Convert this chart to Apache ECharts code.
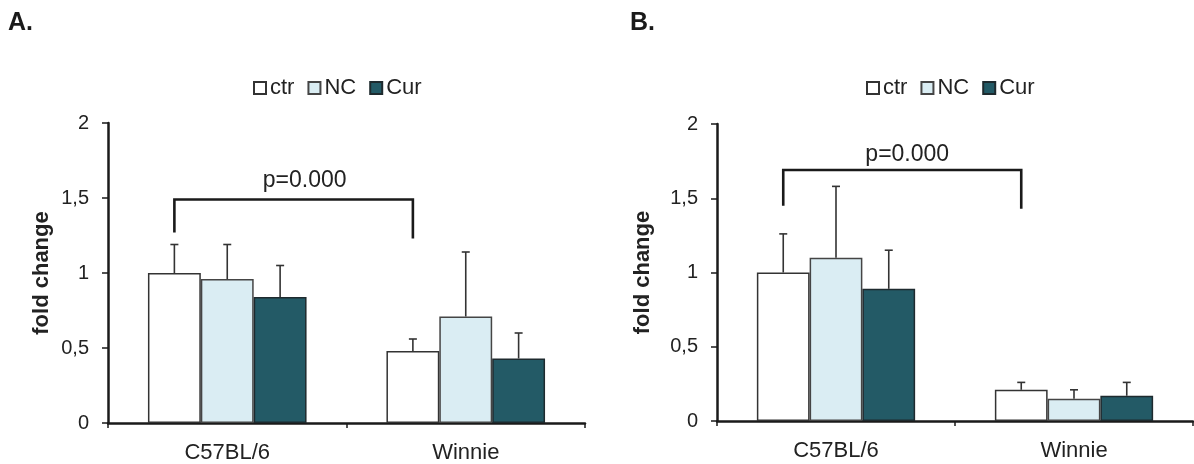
<!DOCTYPE html>
<html>
<head>
<meta charset="utf-8">
<script src="https://cdn.jsdelivr.net/npm/echarts@6/dist/echarts.min.js"></script>
<style>
  html, body { margin: 0; padding: 0; background: #ffffff; }
  #chart { width: 1194px; height: 464px; }
</style>
</head>
<body>
<div id="chart"></div>
<script>
// Strain groups on the category axis and the three treatment series
const groups = ['C57BL/6', 'Winnie'];
const seriesNames = ['ctr', 'NC', 'Cur'];
const yTicks = [0, 0.5, 1, 1.5, 2];

// Panel A: mean fold change and upper SD per group
const ctrA = [1.00, 0.48];
const ncA = [0.96, 0.71];
const curA = [0.84, 0.43];
const ctrErrA = [0.19, 0.08];
const ncErrA = [0.23, 0.43];
const curErrA = [0.21, 0.17];

// Panel B: mean fold change and upper SD per group
const ctrB = [1.00, 0.21];
const ncB = [1.10, 0.15];
const curB = [0.89, 0.17];
const ctrErrB = [0.26, 0.05];
const ncErrB = [0.48, 0.06];
const curErrB = [0.26, 0.09];

// Significance brackets: compared groups, bracket height and leg ends (fold change)
const bracketA = [0, 1, 1.49, 1.27, 1.23];
const bracketB = [0, 1, 1.69, 1.45, 1.43];
const pLabel = 'p=0.000';

const FONT = '"Liberation Sans", Arial, sans-serif';
const INK = '#1a1a1a';
const TEXT = '#222222';
const CAT_GAP = 0.335;

const fills = ['#ffffff', '#daedf3', '#235a66'];
const borders = ['#333333', '#454545', '#1e2a2e'];

const panels = [
  { means: [ctrA, ncA, curA], errs: [ctrErrA, ncErrA, curErrA], bracket: bracketA,
    grid: { left: 108, top: 123, width: 477, height: 301 }, nameGap: 55, legendLeft: 248,
    labelDx: 11, labelDy: 19 },
  { means: [ctrB, ncB, curB], errs: [ctrErrB, ncErrB, curErrB], bracket: bracketB,
    grid: { left: 717, top: 124, width: 476, height: 297 }, nameGap: 63, legendLeft: 861,
    labelDx: 5, labelDy: 15 }
];

function barWidth(api) {
  const band = api.size([1, 0])[0];
  return band * (1 - CAT_GAP) / 3;
}

// Upper-only error whisker with a short cap, centred on its bar
function renderErr(params, api) {
  const c = api.value(0), mean = api.value(1), sd = api.value(2), k = api.value(3);
  const bw = barWidth(api);
  const base = api.coord([c, mean]);
  const top = api.coord([c, mean + sd]);
  const x = base[0] + (k - 1) * bw;
  const st = { stroke: '#333333', lineWidth: 1.6 };
  return {
    type: 'group',
    children: [
      { type: 'line', shape: { x1: x, y1: base[1], x2: x, y2: top[1] }, style: st },
      { type: 'line', shape: { x1: x - 4, y1: top[1], x2: x + 4, y2: top[1] }, style: st }
    ]
  };
}

function makeBracketRenderer(dx, dy) {
  return function (params, api) {
    const from = api.value(0), to = api.value(1);
    const top = api.value(2), leftEnd = api.value(3), rightEnd = api.value(4);
    const bw = barWidth(api);
    const pTop = api.coord([from, top]);
    const xL = pTop[0] - bw;
    const xR = api.coord([to, top])[0] - bw;
    const yTop = pTop[1];
    const yL = api.coord([from, leftEnd])[1];
    const yR = api.coord([to, rightEnd])[1];
    return {
      type: 'group',
      children: [
        { type: 'polyline', shape: { points: [[xL, yL], [xL, yTop], [xR, yTop], [xR, yR]] },
          style: { stroke: INK, lineWidth: 2.6, fill: null } },
        { type: 'text', x: (xL + xR) / 2 + dx, y: yTop - dy,
          style: { text: pLabel, fontSize: 23, fontFamily: FONT, fill: TEXT,
                   align: 'center', verticalAlign: 'middle',
                   textAlign: 'center', textVerticalAlign: 'middle' } }
      ]
    };
  };
}

const grids = [], xAxes = [], yAxes = [], legends = [], series = [];

panels.forEach(function (p, i) {
  grids.push(p.grid);
  xAxes.push({
    type: 'category', gridIndex: i, data: groups,
    axisLine: { lineStyle: { color: INK, width: 2.5 } },
    axisTick: { show: true, length: 5, lineStyle: { color: INK, width: 1.5 } },
    axisLabel: { fontSize: 22, color: TEXT, fontFamily: FONT, margin: 19 },
    splitLine: { show: false }
  });
  yAxes.push({
    type: 'value', gridIndex: i, min: yTicks[0], max: yTicks[yTicks.length - 1], interval: 0.5,
    axisLine: { show: true, lineStyle: { color: INK, width: 2.5 } },
    axisTick: { show: true, length: 6, lineStyle: { color: INK, width: 1.5 } },
    axisLabel: { fontSize: 20, color: TEXT, fontFamily: FONT, margin: 19,
                 formatter: function (v) { return String(v).replace('.', ','); } },
    splitLine: { show: false },
    name: 'fold change', nameLocation: 'middle', nameGap: p.nameGap,
    nameTextStyle: { fontSize: 22, fontWeight: 'bold', color: TEXT, fontFamily: FONT }
  });
  legends.push({
    data: seriesNames, left: p.legendLeft, top: 72, orient: 'horizontal',
    icon: 'rect', itemWidth: 12, itemHeight: 12, itemGap: 13,
    textStyle: { fontSize: 22, color: TEXT, fontFamily: FONT, padding: [0, 0, 0, -1] },
    selectedMode: false
  });

  seriesNames.forEach(function (name, k) {
    series.push({
      type: 'bar', name: name, xAxisIndex: i, yAxisIndex: i,
      data: p.means[k], barGap: '0%', barCategoryGap: (CAT_GAP * 100) + '%',
      itemStyle: { color: fills[k], borderColor: borders[k], borderWidth: 1.5 },
      animation: false, silent: true
    });
  });

  const errData = [];
  seriesNames.forEach(function (name, k) {
    groups.forEach(function (g, c) {
      errData.push([c, p.means[k][c], p.errs[k][c], k]);
    });
  });
  series.push({
    type: 'custom', name: 'sd' + i, xAxisIndex: i, yAxisIndex: i,
    renderItem: renderErr, data: errData, encode: { x: 0, y: 1 }, z: 5,
    animation: false, silent: true
  });
  series.push({
    type: 'custom', name: 'bracket' + i, xAxisIndex: i, yAxisIndex: i,
    renderItem: makeBracketRenderer(p.labelDx, p.labelDy), data: [p.bracket],
    encode: { x: 0, y: 2 }, z: 6, animation: false, silent: true
  });
});

const chart = echarts.init(document.getElementById('chart'), null, { renderer: 'canvas', width: 1194, height: 464 });
chart.setOption({
  backgroundColor: '#ffffff',
  animation: false,
  grid: grids,
  xAxis: xAxes,
  yAxis: yAxes,
  legend: legends,
  series: series,
  graphic: [
    { type: 'text', x: 8, y: 23, style: { text: 'A.', font: 'bold 25px ' + FONT, fill: INK, textVerticalAlign: 'middle', verticalAlign: 'middle' } },
    { type: 'text', x: 630, y: 23, style: { text: 'B.', font: 'bold 25px ' + FONT, fill: INK, textVerticalAlign: 'middle', verticalAlign: 'middle' } }
  ]
});
</script>
</body>
</html>
